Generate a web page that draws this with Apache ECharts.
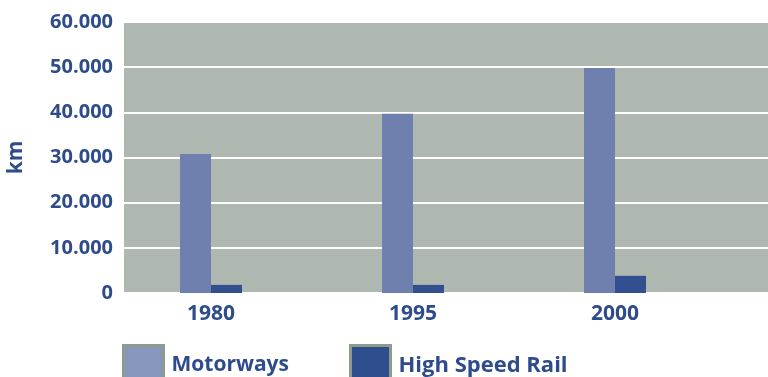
<!DOCTYPE html>
<html>
<head>
<meta charset="utf-8">
<script src="https://cdn.jsdelivr.net/npm/echarts@6/dist/echarts.min.js"></script>
<style>
  html, body { margin: 0; padding: 0; background: #ffffff; }
  #chart { width: 768px; height: 377px; }
</style>
</head>
<body>
<div id="chart"></div>
<script>
// Network length in km
const years = ['1980', '1995', '2000'];
const motorways = [30800, 39700, 49800];
const highSpeedRail = [1800, 1800, 3800];
const yTicks = [0, 10000, 20000, 30000, 40000, 50000, 60000];

const seriesNames = ['Motorways', 'High Speed Rail'];
const textBlue = '#2e4b8c';
const fontFamily = '"Open Sans", "Noto Sans", sans-serif';

// thousands separator as a dot: 60000 -> "60.000"
function dotThousands(v) {
  return String(v).replace(/\B(?=(\d{3})+(?!\d))/g, '.');
}

const yMin = yTicks[0];
const yMax = yTicks[yTicks.length - 1];
const yStep = yTicks[1] - yTicks[0];

const chart = echarts.init(document.getElementById('chart'), null, { renderer: 'canvas' });

chart.setOption({
  animation: false,
  backgroundColor: '#ffffff',
  grid: [
    // grey plotting panel with the value scale
    { left: 124, right: 0, top: 22, bottom: 84, show: true, backgroundColor: '#afb8b0', borderWidth: 0,
      containLabel: false, outerBoundsMode: 'none' },
    // bars and year labels
    { left: 110, right: 52, top: 22, bottom: 84, containLabel: false, outerBoundsMode: 'none' }
  ],
  xAxis: [
    { gridIndex: 0, type: 'category', data: years, show: false },
    {
      gridIndex: 1, type: 'category', data: years,
      axisLine: { show: false }, axisTick: { show: false },
      axisLabel: { color: textBlue, fontSize: 21, fontWeight: 'bold', fontFamily: fontFamily, margin: 11 }
    }
  ],
  yAxis: [
    {
      gridIndex: 0, type: 'value', min: yMin, max: yMax, interval: yStep,
      name: 'km', nameLocation: 'middle', nameGap: 97, nameRotate: 90,
      nameTextStyle: { color: textBlue, fontSize: 21, fontWeight: 'bold', fontFamily: fontFamily },
      axisLine: { show: false }, axisTick: { show: false },
      axisLabel: {
        color: textBlue, fontSize: 20, fontWeight: 'bold', fontFamily: fontFamily, margin: 11,
        formatter: dotThousands
      },
      splitLine: { show: true, lineStyle: { color: '#ffffff', width: 2 } }
    },
    { gridIndex: 1, type: 'value', min: yMin, max: yMax, interval: yStep, show: false, splitLine: { show: false } }
  ],
  legend: [
    {
      data: [seriesNames[0]], left: 122, top: 344, padding: 0,
      itemWidth: 40, itemHeight: 40, itemGap: 0,
      icon: 'rect',
      itemStyle: { color: '#8796bc', borderColor: '#8c9b8c', borderWidth: 3 },
      textStyle: { color: textBlue, fontSize: 21, fontWeight: 'bold', fontFamily: fontFamily, padding: [0, 0, 0, 3] }
    },
    {
      data: [seriesNames[1]], left: 349, top: 344, padding: 0,
      itemWidth: 40, itemHeight: 40, itemGap: 0,
      icon: 'rect',
      itemStyle: { color: '#2f4e8e', borderColor: '#8c9b8c', borderWidth: 3 },
      textStyle: { color: textBlue, fontSize: 22, fontWeight: 'bold', fontFamily: fontFamily, padding: [0, 0, 0, 3] }
    }
  ],
  series: [
    {
      name: seriesNames[0], type: 'bar', xAxisIndex: 1, yAxisIndex: 1,
      data: motorways, barWidth: 31, barGap: '0%',
      itemStyle: { color: '#6f80ae' }
    },
    {
      name: seriesNames[1], type: 'bar', xAxisIndex: 1, yAxisIndex: 1,
      data: highSpeedRail, barWidth: 31, barGap: '0%',
      itemStyle: { color: '#324f8f' }
    }
  ]
});
</script>
</body>
</html>
